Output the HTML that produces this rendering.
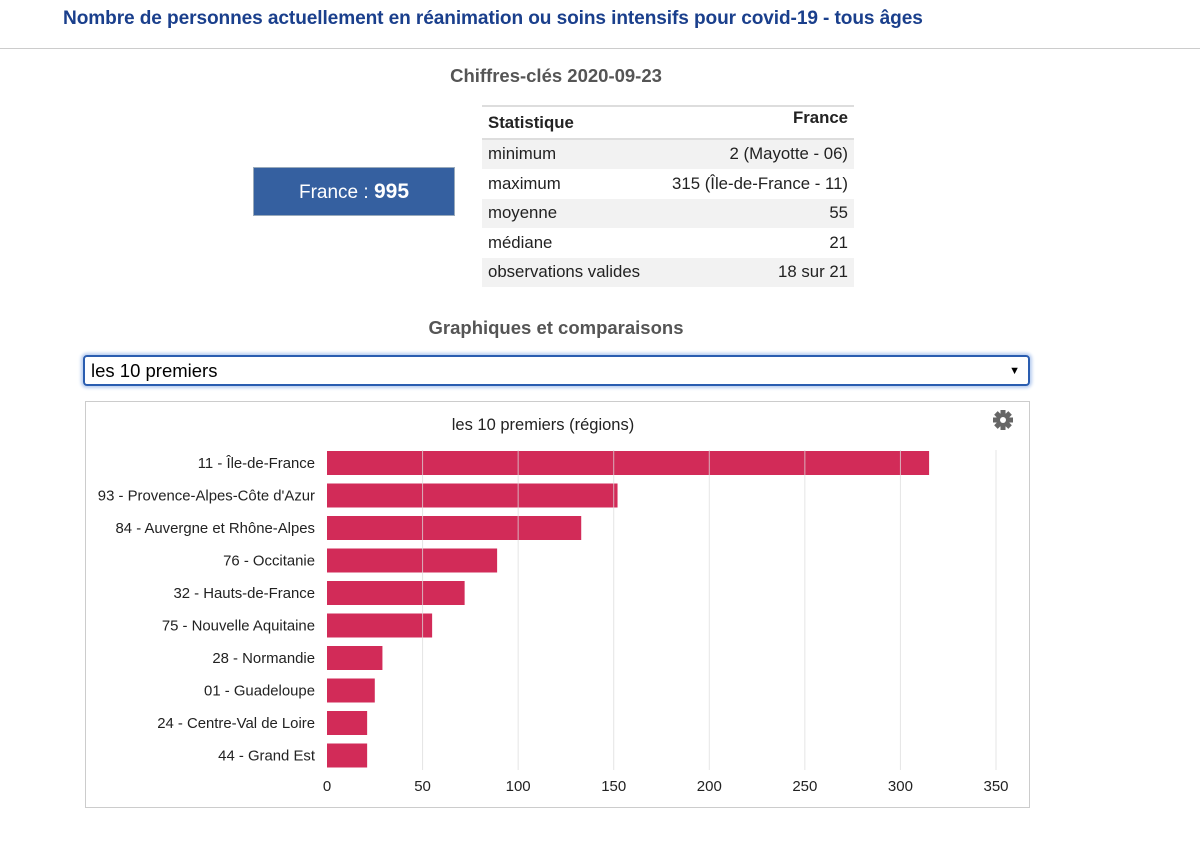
<!DOCTYPE html>
<html><head><meta charset="utf-8">
<style>
body{margin:0;width:1200px;height:849px;background:#fff;font-family:"Liberation Sans",Arial,sans-serif;position:relative;overflow:hidden}
.abs{position:absolute}
#title{left:63px;top:8px;font-size:19.1px;font-weight:bold;color:#1a3f8c;letter-spacing:-0.1px}
#sep{left:0;top:48px;width:1200px;height:1px;background:#ccc}
.h2{font-size:18.5px;font-weight:bold;color:#555;width:1200px;text-align:center;left:-44px}
table{border-collapse:collapse;font-size:16.8px;color:#222}
td,th{height:29.5px;padding:0 6px;}
th{font-weight:bold;text-align:left}
</style></head><body>
<div id="title" class="abs">Nombre de personnes actuellement en réanimation ou soins intensifs pour covid-19 - tous âges</div>
<div id="sep" class="abs"></div>
<div class="abs h2" style="top:65px">Chiffres-clés 2020-09-23</div>
<div class="abs" style="left:253px;top:167px;width:200px;height:47px;background:#3560a0;border:1px solid #9ab;color:#fff;font-size:19px;line-height:47px;text-align:center">France : <b style="font-size:21px">995</b></div>
<table class="abs" style="left:482px;top:105px;width:372px;border-top:2px solid #ddd">
<tr style="border-bottom:2px solid #ddd"><th style="height:26px;padding-top:2px">Statistique</th><th style="text-align:right;vertical-align:top;padding-top:1px">France</th></tr>
<tr style="background:#f2f2f2"><td>minimum</td><td style="text-align:right">2 (Mayotte - 06)</td></tr>
<tr><td>maximum</td><td style="text-align:right">315 (Île-de-France - 11)</td></tr>
<tr style="background:#f2f2f2"><td>moyenne</td><td style="text-align:right">55</td></tr>
<tr><td>médiane</td><td style="text-align:right">21</td></tr>
<tr style="background:#f2f2f2"><td>observations valides</td><td style="text-align:right">18 sur 21</td></tr>
</table>
<div class="abs h2" style="top:317px">Graphiques et comparaisons</div>
<div class="abs" style="left:83px;top:355px;height:27px;border:2px solid #2a5db0;border-radius:4px;box-shadow:0 0 3px 2px #b8cdf0;font-size:18.5px;line-height:28px;padding-left:6px;width:937px">les 10 premiers<span style="position:absolute;right:8px;top:0;font-size:11px">▼</span></div>
<div class="abs" style="left:85px;top:401px;width:943px;height:405px;border:1px solid #ccc"></div>
<svg class="abs" style="left:0;top:0" width="1200" height="849" id="chart">
<text x="543" y="430" font-size="16.5" text-anchor="middle" fill="#222" font-family="Liberation Sans">les 10 premiers (régions)</text>
<g transform="translate(1003,420)" fill="#666">
<circle r="7"/>
<rect x="-2.5" y="-10" width="5" height="20"/><rect x="-2.5" y="-10" width="5" height="20" transform="rotate(45)"/><rect x="-2.5" y="-10" width="5" height="20" transform="rotate(90)"/><rect x="-2.5" y="-10" width="5" height="20" transform="rotate(135)"/>
<circle r="3" fill="#fff"/>
</g>
</svg>
<script>
const categories=["11 - Île-de-France","93 - Provence-Alpes-Côte d'Azur","84 - Auvergne et Rhône-Alpes","76 - Occitanie","32 - Hauts-de-France","75 - Nouvelle Aquitaine","28 - Normandie","01 - Guadeloupe","24 - Centre-Val de Loire","44 - Grand Est"];
const values=[315,152,133,89,72,55,29,25,21,21];
const ticks=[0,50,100,150,200,250,300,350];
const svg=document.getElementById('chart');const NS='http://www.w3.org/2000/svg';
const x0=327,x1=996,xmax=350,y0=447,step=32.5,bh=24;
const xs=v=>x0+(x1-x0)*v/xmax;
function mk(t,a){const e=document.createElementNS(NS,t);for(const k in a)e.setAttribute(k,a[k]);svg.appendChild(e);return e;}
values.forEach((v,i)=>{const cy=y0+16+i*step;
const r=mk('rect',{x:x0,y:cy-bh/2,width:xs(v)-x0,height:bh,fill:'#d22b58'});


const t=mk('text',{x:315,y:cy+5,'font-size':14.9,'text-anchor':'end',fill:'#222','font-family':'Liberation Sans'});t.textContent=categories[i];

});
ticks.forEach(v=>{if(v>0){const l=mk('line',{x1:xs(v),x2:xs(v),y1:450,y2:770,stroke:'#dcdcdc','stroke-opacity':0.75,'stroke-width':1});

}
const t=mk('text',{x:xs(v),y:791,'font-size':15,'text-anchor':'middle',fill:'#222','font-family':'Liberation Sans'});t.textContent=v;

});
</script>
</body></html>
